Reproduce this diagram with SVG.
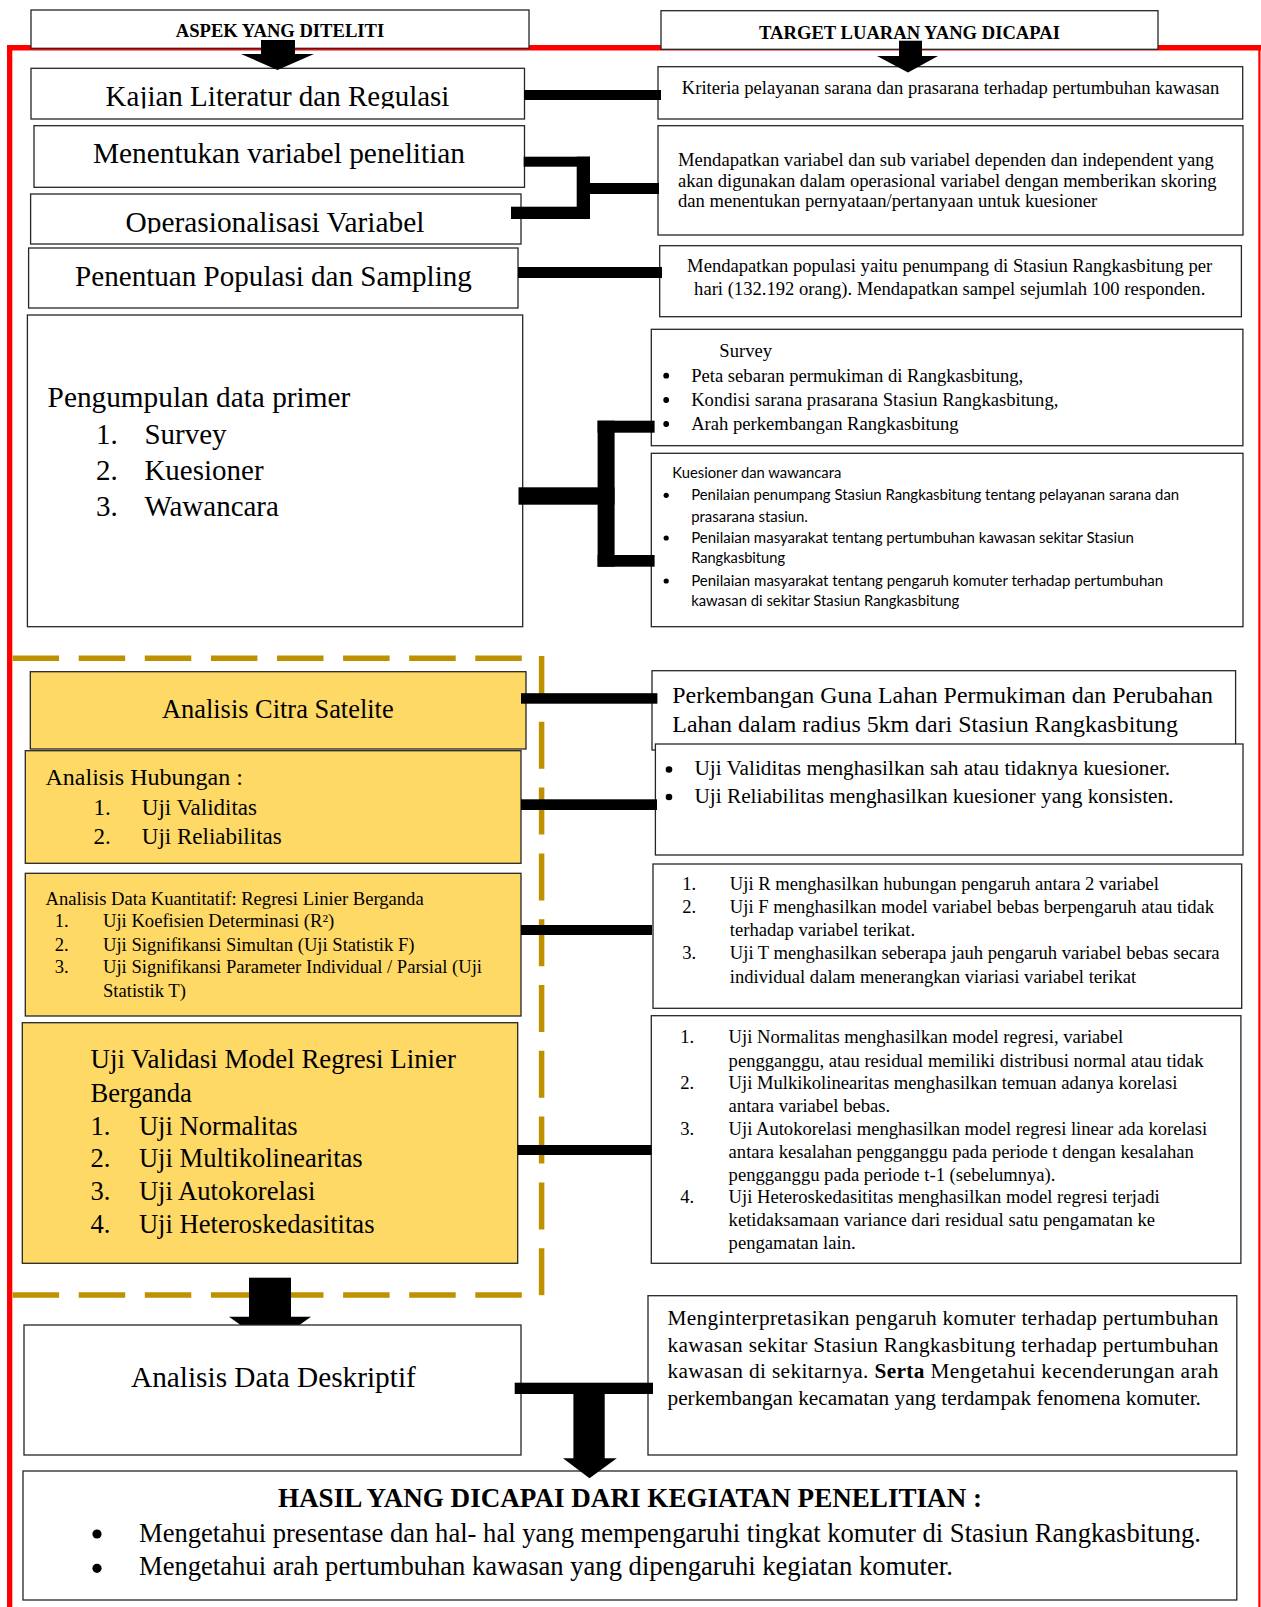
<svg xmlns="http://www.w3.org/2000/svg" width="1261" height="1607" viewBox="0 0 1261 1607">
<style>
.box{fill:#fff;stroke:#262626;stroke-width:1.3}
.ybox{fill:#FFD966;stroke:#262626;stroke-width:1.3}
.t{font-family:'Liberation Serif','Times New Roman',serif;fill:#000}
.b{font-weight:bold}
.s{font-family:Lato,'Liberation Sans',Arial,sans-serif;fill:#000;font-size:14.5px}
.c{text-anchor:middle}
.k{fill:#000}
.gold{stroke:#BF9000;stroke-width:5.5;fill:none}
.red{fill:#FF0000}
.f186{font-size:18.6px}
</style>
<defs>
<clipPath id="clipKajian"><rect x="31" y="68" width="494" height="40.5"/></clipPath>
<clipPath id="clipOpr"><rect x="30" y="194" width="492" height="39.5"/></clipPath>
</defs>
<rect width="1261" height="1607" fill="#fff"/>

<g id="frame">
<rect class="red" x="7" y="45" width="1254" height="5.5"/>
<rect class="red" x="7" y="45" width="5.3" height="1562"/>
<rect class="red" x="1258.3" y="45" width="2.2" height="1562"/>
</g>

<g id="header-aspek">
<rect class="box" x="31" y="10" width="498" height="38.3"/>
<text class="t b c" x="280" y="37.3" font-size="18.6">ASPEK YANG DITELITI</text>
</g>
<g id="header-target">
<rect class="box" x="661" y="10.7" width="497" height="38.6"/>
<text class="t b c" x="909.5" y="39" font-size="18.6">TARGET LUARAN YANG DICAPAI</text>
</g>

<g id="analysis-group">
<path class="gold" d="M12.6 658.3 H540" stroke-dasharray="46.5 19.6"/>
<path class="gold" d="M541.6 656 V1297.5" stroke-dasharray="47 18.8"/>
<path class="gold" d="M12.6 1295 H540" stroke-dasharray="46.5 19.6"/>
</g>

<g id="arrow-to-deskriptif">
<rect class="k" x="249" y="1277.7" width="42" height="39.5"/>
<polygon class="k" points="229,1316.7 311,1316.7 270,1346"/>
</g>

<!-- left column -->
<g id="kajian">
<rect class="box" x="31" y="68.3" width="493.5" height="50.7"/>
<text class="t c" x="277.5" y="106" font-size="29" clip-path="url(#clipKajian)">Kajian Literatur dan Regulasi</text>
</g>
<g id="menentukan">
<rect class="box" x="34" y="125.7" width="490.5" height="61.6"/>
<text class="t c" x="279" y="163" font-size="29.4">Menentukan variabel penelitian</text>
</g>
<g id="operasionalisasi">
<rect class="box" x="30.6" y="194" width="490.4" height="50"/>
<text class="t c" x="275" y="231.7" font-size="29.4" clip-path="url(#clipOpr)">Operasionalisasi Variabel</text>
</g>
<g id="penentuan">
<rect class="box" x="28.6" y="248" width="489.4" height="60"/>
<text class="t c" x="273.5" y="286" font-size="29.1">Penentuan Populasi dan Sampling</text>
</g>
<g id="pengumpulan">
<rect class="box" x="27.4" y="315" width="495.3" height="311.7"/>
<text class="t" x="47.6" y="406.7" font-size="29.3">Pengumpulan data primer</text>
<g class="t" font-size="29">
<text x="96" y="444">1.</text><text x="144.4" y="444">Survey</text>
<text x="96" y="480">2.</text><text x="144.4" y="480">Kuesioner</text>
<text x="96" y="516">3.</text><text x="144.4" y="516">Wawancara</text>
</g>
</g>
<g id="citra">
<rect class="ybox" x="30.3" y="671.7" width="495.7" height="77.3"/>
<text class="t c" x="277.8" y="718.3" font-size="26.4">Analisis Citra Satelite</text>
</g>
<g id="hubungan">
<rect class="ybox" x="25.3" y="750.7" width="495.7" height="112.6"/>
<text class="t" x="45.5" y="785" font-size="24">Analisis Hubungan :</text>
<g class="t" font-size="23">
<text x="93.4" y="815">1.</text><text x="141.8" y="815">Uji Validitas</text>
<text x="93.4" y="844">2.</text><text x="141.8" y="844">Uji Reliabilitas</text>
</g>
</g>
<g id="kuantitatif">
<rect class="ybox" x="25.3" y="873.3" width="495.7" height="142.7"/>
<g class="t f186">
<text x="45.5" y="905">Analisis Data Kuantitatif: Regresi Linier Berganda</text>
<text x="54.7" y="927.3">1.</text><text x="103" y="927.3">Uji Koefisien Determinasi (R²)</text>
<text x="54.7" y="950.7">2.</text><text x="103" y="950.7">Uji Signifikansi Simultan (Uji Statistik F)</text>
<text x="54.7" y="973.3">3.</text><text x="103" y="973.3">Uji Signifikansi Parameter Individual / Parsial (Uji</text>
<text x="103" y="996.7">Statistik T)</text>
</g>
</g>
<g id="validasi">
<rect class="ybox" x="22.3" y="1022.7" width="495.4" height="240.6"/>
<g class="t" font-size="26.6">
<text x="90.5" y="1068.3" font-size="26.9">Uji Validasi Model Regresi Linier</text>
<text x="90.5" y="1101.7">Berganda</text>
<text x="90.5" y="1135">1.</text><text x="138.9" y="1135">Uji Normalitas</text>
<text x="90.5" y="1166.7">2.</text><text x="138.9" y="1166.7">Uji Multikolinearitas</text>
<text x="90.5" y="1200">3.</text><text x="138.9" y="1200">Uji Autokorelasi</text>
<text x="90.5" y="1232.7">4.</text><text x="138.9" y="1232.7">Uji Heteroskedasititas</text>
</g>
</g>
<g id="deskriptif">
<rect class="box" x="24" y="1325" width="497" height="130"/>
<text class="t c" x="273.4" y="1386.7" font-size="29.3">Analisis Data Deskriptif</text>
</g>

<!-- right column -->
<g id="kriteria">
<rect class="box" x="658" y="66.7" width="584.7" height="52.3"/>
<text class="t c f186" x="950.5" y="94">Kriteria pelayanan sarana dan prasarana terhadap pertumbuhan kawasan</text>
</g>
<g id="variabel-out">
<rect class="box" x="658" y="125.7" width="585" height="109.3"/>
<g class="t f186">
<text x="678" y="165.7">Mendapatkan variabel dan sub variabel dependen dan independent yang</text>
<text x="678" y="186.7">akan digunakan dalam operasional variabel dengan memberikan skoring</text>
<text x="678" y="206.7">dan menentukan pernyataan/pertanyaan untuk kuesioner</text>
</g>
</g>
<g id="populasi-out">
<rect class="box" x="659.7" y="245.7" width="581.7" height="71"/>
<g class="t c f186">
<text x="949.7" y="271.7">Mendapatkan populasi yaitu penumpang di Stasiun Rangkasbitung per</text>
<text x="949.7" y="295">hari (132.192 orang). Mendapatkan sampel sejumlah 100 responden.</text>
</g>
</g>
<g id="survey-out">
<rect class="box" x="651.3" y="329.3" width="591.6" height="116.4"/>
<g class="t f186">
<text x="719.3" y="356.7">Survey</text>
<text x="691.2" y="381.7">Peta sebaran permukiman di Rangkasbitung,</text>
<text x="691.2" y="406">Kondisi sarana prasarana Stasiun Rangkasbitung,</text>
<text x="691.2" y="430">Arah perkembangan Rangkasbitung</text>
</g>
<circle class="k" cx="666.2" cy="375.7" r="2.9"/>
<circle class="k" cx="666.2" cy="400" r="2.9"/>
<circle class="k" cx="666.2" cy="424" r="2.9"/>
</g>
<g id="kuesioner-out">
<rect class="box" x="651.3" y="453.3" width="591.7" height="173.4"/>
<text class="s" x="672.3" y="478.3" textLength="169" lengthAdjust="spacingAndGlyphs">Kuesioner dan wawancara</text>
<text class="s" x="691.2" y="500" textLength="488" lengthAdjust="spacingAndGlyphs">Penilaian penumpang Stasiun Rangkasbitung tentang pelayanan sarana dan</text>
<text class="s" x="691.2" y="521.7" textLength="116.7" lengthAdjust="spacingAndGlyphs">prasarana stasiun.</text>
<text class="s" x="691.2" y="542.7" textLength="442.7" lengthAdjust="spacingAndGlyphs">Penilaian masyarakat tentang pertumbuhan kawasan sekitar Stasiun</text>
<text class="s" x="691.2" y="563.3" textLength="93.8" lengthAdjust="spacingAndGlyphs">Rangkasbitung</text>
<text class="s" x="691.2" y="585.7" textLength="472" lengthAdjust="spacingAndGlyphs">Penilaian masyarakat tentang pengaruh komuter terhadap pertumbuhan</text>
<text class="s" x="691.2" y="606" textLength="268" lengthAdjust="spacingAndGlyphs">kawasan di sekitar Stasiun Rangkasbitung</text>
<circle class="k" cx="666.2" cy="495.3" r="2.6"/>
<circle class="k" cx="666.2" cy="538" r="2.6"/>
<circle class="k" cx="666.2" cy="581" r="2.6"/>
</g>
<g id="perkembangan-out">
<rect class="box" x="652" y="670.7" width="583.6" height="79.3"/>
<g class="t" font-size="23.9">
<text x="672.3" y="702.7">Perkembangan Guna Lahan Permukiman dan Perubahan</text>
<text x="672.3" y="731.7">Lahan dalam radius 5km dari Stasiun Rangkasbitung</text>
</g>
</g>
<g id="validitas-out">
<rect class="box" x="655.4" y="744" width="587.6" height="111"/>
<g class="t" font-size="21.3">
<text x="694.4" y="775">Uji Validitas menghasilkan sah atau tidaknya kuesioner.</text>
<text x="694.4" y="802.7">Uji Reliabilitas menghasilkan kuesioner yang konsisten.</text>
</g>
<circle class="k" cx="669" cy="769.5" r="3.3"/>
<circle class="k" cx="669" cy="797" r="3.3"/>
</g>
<g id="regresi-out">
<rect class="box" x="653" y="864" width="588.7" height="144.3"/>
<g class="t f186">
<text x="682.3" y="890">1.</text><text x="729.8" y="890">Uji R menghasilkan hubungan pengaruh antara 2 variabel</text>
<text x="682.3" y="913.3">2.</text><text x="729.8" y="913.3">Uji F menghasilkan model variabel bebas berpengaruh atau tidak</text>
<text x="729.8" y="936">terhadap variabel terikat.</text>
<text x="682.3" y="959.3">3.</text><text x="729.8" y="959.3">Uji T menghasilkan seberapa jauh pengaruh variabel bebas secara</text>
<text x="729.8" y="982.7">individual dalam menerangkan viariasi variabel terikat</text>
</g>
</g>
<g id="asumsi-out">
<rect class="box" x="651.3" y="1015.7" width="589.6" height="247.6"/>
<g class="t f186">
<text x="680.3" y="1043.3">1.</text><text x="728.6" y="1043.3">Uji Normalitas menghasilkan model regresi, variabel</text>
<text x="728.6" y="1066.7">pengganggu, atau residual memiliki distribusi normal atau tidak</text>
<text x="680.3" y="1089.3">2.</text><text x="728.6" y="1089.3">Uji Mulkikolinearitas menghasilkan temuan adanya korelasi</text>
<text x="728.6" y="1111.7">antara variabel bebas.</text>
<text x="680.3" y="1135">3.</text><text x="728.6" y="1135">Uji Autokorelasi menghasilkan model regresi linear ada korelasi</text>
<text x="728.6" y="1157.7">antara kesalahan pengganggu pada periode t dengan kesalahan</text>
<text x="728.6" y="1181">pengganggu pada periode t-1 (sebelumnya).</text>
<text x="680.3" y="1203.3">4.</text><text x="728.6" y="1203.3">Uji Heteroskedasititas menghasilkan model regresi terjadi</text>
<text x="728.6" y="1226">ketidaksamaan variance dari residual satu pengamatan ke</text>
<text x="728.6" y="1249.3">pengamatan lain.</text>
</g>
</g>
<g id="interpretasi-out">
<rect class="box" x="648" y="1295.7" width="588.8" height="159.3"/>
<g class="t" font-size="21.3">
<text x="667.5" y="1325" textLength="550.8" lengthAdjust="spacing">Menginterpretasikan pengaruh komuter terhadap pertumbuhan</text>
<text x="667.5" y="1351.7" textLength="550.8" lengthAdjust="spacing">kawasan sekitar Stasiun Rangkasbitung terhadap pertumbuhan</text>
<text x="667.5" y="1378.3" textLength="550.8" lengthAdjust="spacing">kawasan di sekitarnya. <tspan font-weight="bold">Serta</tspan> Mengetahui kecenderungan arah</text>
<text x="667.5" y="1405">perkembangan kecamatan yang terdampak fenomena komuter.</text>
</g>
</g>
<g id="hasil">
<rect class="box" x="23" y="1471" width="1213.8" height="129"/>
<text class="t b c" x="630" y="1506.7" font-size="27.1">HASIL YANG DICAPAI DARI KEGIATAN PENELITIAN :</text>
<g class="t" font-size="26.6">
<text x="139" y="1541.7">Mengetahui presentase dan hal- hal yang mempengaruhi tingkat komuter di Stasiun Rangkasbitung.</text>
<text x="139" y="1575">Mengetahui arah pertumbuhan kawasan yang dipengaruhi kegiatan komuter.</text>
</g>
<circle class="k" cx="97" cy="1534" r="4.6"/>
<circle class="k" cx="97" cy="1568.3" r="4.6"/>
</g>

<g id="connectors">
<rect class="k" x="261" y="40" width="34" height="14.5"/>
<polygon class="k" points="241,54 314,54 277.5,70"/>
<rect class="k" x="899" y="40.7" width="23" height="15.5"/>
<polygon class="k" points="877,56 938,56 908,72.5"/>
<rect class="k" x="524" y="90" width="137" height="10"/>
<rect class="k" x="523.7" y="156.7" width="66.3" height="10"/>
<rect class="k" x="576.7" y="156.7" width="13.3" height="62.3"/>
<rect class="k" x="511" y="206.7" width="79" height="12.3"/>
<rect class="k" x="589" y="183" width="70" height="11"/>
<rect class="k" x="518" y="267" width="144" height="11"/>
<rect class="k" x="518.5" y="487.3" width="96" height="17.4"/>
<rect class="k" x="597.6" y="420.7" width="17" height="146"/>
<rect class="k" x="597.6" y="420.7" width="57" height="12"/>
<rect class="k" x="597.6" y="555" width="57" height="11.7"/>
<rect class="k" x="521" y="693.2" width="136.4" height="10.5"/>
<rect class="k" x="521" y="799.3" width="136" height="10.7"/>
<rect class="k" x="521" y="925" width="131" height="10"/>
<rect class="k" x="517.7" y="1145" width="133.8" height="10"/>
<rect class="k" x="514.7" y="1382.7" width="138.3" height="11.3"/>
<rect class="k" x="573.4" y="1393" width="31.3" height="66"/>
<polygon class="k" points="563,1458.3 616.8,1458.3 589.5,1478.3"/>
</g>
</svg>
